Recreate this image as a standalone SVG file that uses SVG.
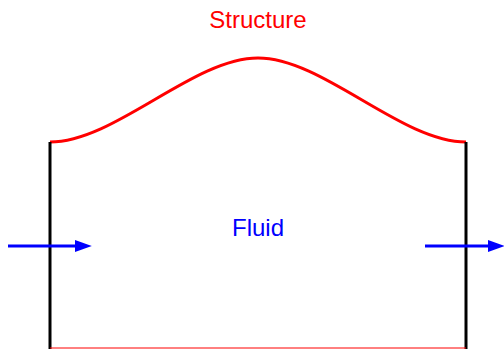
<svg xmlns="http://www.w3.org/2000/svg" width="504" height="349" viewBox="0 0 504 349">
<defs>
<style>
.lbl{font-family:"Liberation Sans",Arial,sans-serif;font-size:24px;text-anchor:middle}
.wall{stroke:#000;stroke-width:3;fill:none}
.arr{stroke:#0000ff;stroke-width:3;fill:none;marker-end:url(#ah)}
</style>
<marker id="ah" viewBox="0 0 14 10" refX="0" refY="5" markerWidth="5.6" markerHeight="4" orient="auto" markerUnits="strokeWidth">
<path d="M0,0 L14,5 L0,10 z" fill="#0000ff"/>
</marker>
</defs>
<rect width="504" height="349" fill="#fff"/>
<g id="structure">
<path d="M50,142 C115,142 193,58 258,58 C323,58 401,142 466,142" stroke="#ff0000" stroke-width="3" fill="none"/>
<text class="lbl" x="258" y="28" fill="#ff0000">Structure</text>
</g>
<g id="walls">
<line class="wall" x1="50" y1="142" x2="50" y2="349"/>
<line class="wall" x1="466" y1="142" x2="466" y2="349"/>
<line x1="50" y1="348" x2="466" y2="348" stroke="#ff0000" stroke-width="1"/>
</g>
<g id="fluid">
<text class="lbl" x="258" y="236" fill="#0000ff">Fluid</text>
</g>
<g id="connectors">
<line class="arr" x1="8" y1="246" x2="75" y2="246"/>
<line class="arr" x1="425" y1="246" x2="488" y2="246"/>
</g>
</svg>
